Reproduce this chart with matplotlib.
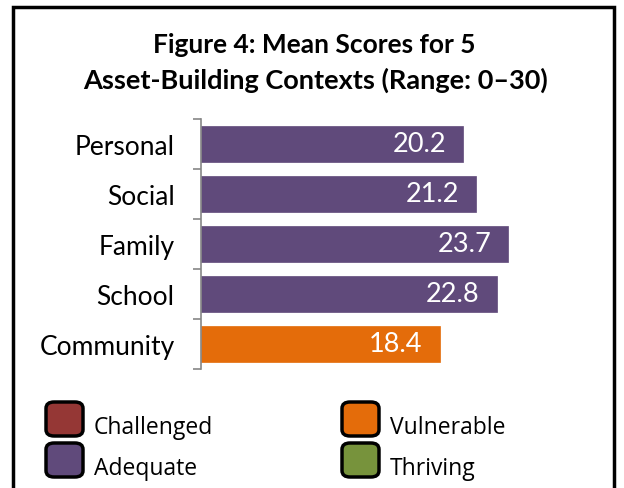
import numpy as np
import matplotlib.pyplot as plt
from matplotlib.patches import FancyBboxPatch, Rectangle

# data
contexts = ["Personal", "Social", "Family", "School", "Community"]
scores = [20.2, 21.2, 23.7, 22.8, 18.4]
levels = ["Adequate", "Adequate", "Adequate", "Adequate", "Vulnerable"]

level_names = ["Challenged", "Vulnerable", "Adequate", "Thriving"]
level_colors = {"Challenged": "#953735", "Vulnerable": "#E46C0A",
                "Adequate": "#604A7B", "Thriving": "#77933C"}

plt.rcParams['font.family'] = ['Lato', 'DejaVu Sans']

fig = plt.figure(figsize=(6.24, 4.89), dpi=100)
W, H = 624, 489
ax = fig.add_axes([201 / W, 1 - 370 / H, (590 - 201) / W, 250 / H])

y = np.arange(len(contexts))
cols = [level_colors[l] for l in levels]
bars = ax.barh(y, scores, height=0.72, color=cols, edgecolor=cols, linewidth=0.5)
for b, v in zip(bars, scores):
    ax.text(v - 1.3, b.get_y() + b.get_height() / 2, f"{v:.1f}", color="white",
            ha="right", va="center", fontsize=19.5)

ax.set_xlim(0, 30)
ax.set_ylim(len(contexts) - 0.5, -0.5)
ax.set_yticks(y)
ax.set_yticklabels(contexts, fontsize=19)
ax.set_yticks(np.arange(-0.5, len(contexts)), minor=True)
ax.tick_params(axis='y', which='major', length=0, pad=19)
ax.tick_params(axis='y', which='minor', length=6, width=1.2, color="#868686", direction="out")
ax.set_xticks([])
for s in ["top", "right", "bottom"]:
    ax.spines[s].set_visible(False)
ax.spines["left"].set_color("#868686")
ax.spines["left"].set_linewidth(1.2)

# title
fig.text(314 / W, 1 - 45 / H, "Figure 4: Mean Scores for 5", ha="center", va="center",
         fontsize=19, fontweight="bold")
fig.text(316 / W, 1 - 80 / H, "Asset-Building Contexts (Range: 0\u201330)", ha="center",
         va="center", fontsize=19.5, fontweight="bold")

# legend, two rows x two columns, drawn in pixel positions
bw, bh = 37, 34
for i, name in enumerate(level_names):
    col, row = i % 2, i // 2
    bx = 46 + col * 296
    by = 403 + row * 41
    fig.patches.append(FancyBboxPatch((bx / W, 1 - (by + bh) / H), bw / W, bh / H,
                                      boxstyle="round,pad=0,rounding_size=0.013",
                                      transform=fig.transFigure, facecolor=level_colors[name],
                                      edgecolor="black", linewidth=2.5))
    fig.text((bx + 48) / W, 1 - (by + 31) / H, name, ha="left", va="baseline",
             fontsize=16.5, family=['Open Sans', 'DejaVu Sans'])

# outer frame
fig.patches.append(Rectangle((13 / W, -0.05), (614 - 13) / W, 1.05 - 8 / H, transform=fig.transFigure,
                             fill=False, edgecolor="black", linewidth=2.5))

fig.savefig("out.png", dpi=100)
